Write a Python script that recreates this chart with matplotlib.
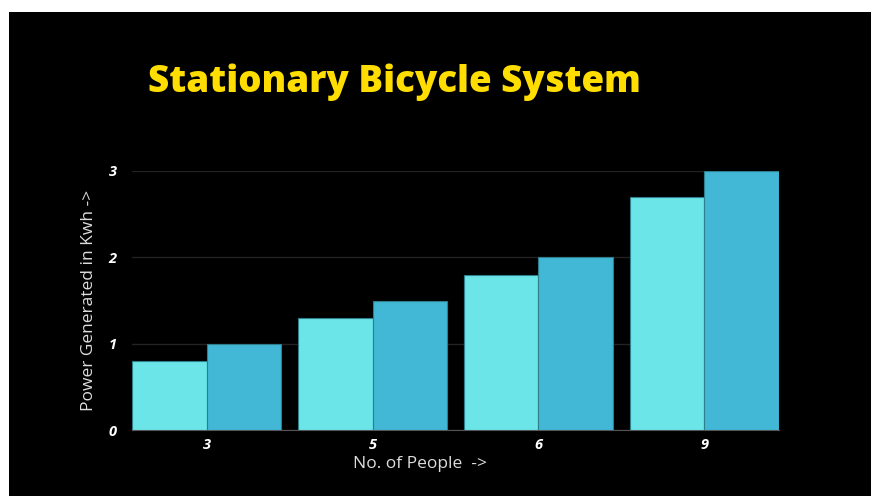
import matplotlib
matplotlib.use('Agg')
import matplotlib.pyplot as plt
from matplotlib.patches import Rectangle
import numpy as np

people = ['3', '5', '6', '9']
power_a = [0.8, 1.3, 1.8, 2.7]
power_b = [1.0, 1.5, 2.0, 3.0]
yticks = [0, 1, 2, 3]

plt.rcParams['font.family'] = ['Open Sans', 'DejaVu Sans']

fig = plt.figure(figsize=(8.71, 4.96), dpi=100)
fig.patch.set_facecolor('white')
# black panel, white strip at top and left
fig.patches.append(Rectangle((9 / 871, 0), 1 - 9 / 871, 484 / 496,
                             transform=fig.transFigure, facecolor='black',
                             edgecolor='none', zorder=-10))

ax = fig.add_axes([132 / 871, 66 / 496, 647 / 871, 259 / 496])
ax.set_facecolor('black')

x = np.arange(len(people))
w = 0.45
ax.bar(x - w / 2, power_a, width=w, color='#6BE5E8', edgecolor='#2E7F8C',
       linewidth=0.8, zorder=3)
ax.bar(x + w / 2, power_b, width=w, color='#42B7D6', edgecolor='#2E7F8C',
       linewidth=0.8, zorder=3)

ax.set_xlim(-0.45, 3.45)
ax.set_ylim(0, 3)
ax.set_xticks(x)
ax.set_xticklabels(people)
ax.set_yticks(yticks)
ax.tick_params(length=0, colors='white', labelsize=10.5, pad=6)
for lab in ax.get_xticklabels() + ax.get_yticklabels():
    lab.set_fontweight('bold')
    lab.set_fontstyle('italic')
ax.tick_params(axis='y', pad=11)

ax.grid(axis='y', color='#222222', linewidth=1, zorder=0)
for s in ['top', 'right', 'left']:
    ax.spines[s].set_visible(False)
ax.spines['bottom'].set_color('#555555')

ax.set_ylabel('Power Generated in Kwh ->', color='#DDDDDD', fontsize=12.5)
ax.yaxis.set_label_coords(-0.054, 0.5)
fig.text(420 / 871, 1 - 464 / 496, 'No. of People  ->', color='#DDDDDD',
         fontsize=12.5, ha='center', va='center')

fig.text(148 / 871, 1 - 82 / 496, 'Stationary Bicycle System', color='#FFDD00',
         fontsize=26.5, fontweight='heavy', ha='left', va='center')

fig.savefig('out.png', dpi=100, facecolor=fig.get_facecolor())
